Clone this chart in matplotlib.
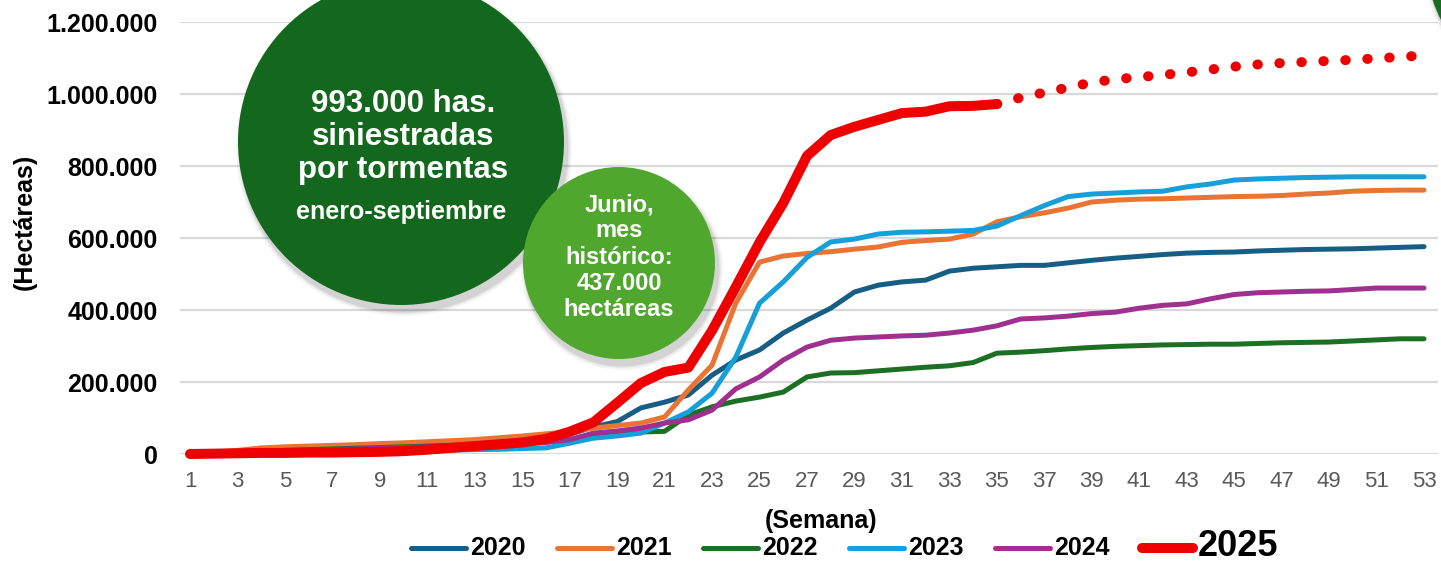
import matplotlib.pyplot as plt
from matplotlib.patches import Ellipse
from matplotlib.lines import Line2D
from matplotlib.ticker import FuncFormatter

plt.rcParams['font.family'] = ['Liberation Sans', 'DejaVu Sans']

# Hectareas siniestradas acumuladas por semana (miles de ha)
semanas = list(range(1, 54))
ha_2020 = [0, 3, 6, 9, 12, 14, 16, 18, 20, 23,
           26, 29, 32, 35, 38, 42, 55, 75, 90, 128,
           144, 164, 219, 261, 289, 336, 372, 405, 450, 469,
           478, 483, 508, 516, 520, 524, 524, 531, 538, 544,
           549, 554, 558, 560, 561, 564, 566, 568, 569, 570,
           572, 574, 576]
ha_2021 = [0, 5, 10, 17, 20, 22, 24, 26, 29, 31,
           34, 37, 40, 45, 50, 56, 62, 72, 79, 86,
           103, 178, 247, 419, 533, 550, 557, 562, 569, 575,
           588, 593, 597, 611, 645, 659, 670, 683, 700, 705,
           708, 709, 711, 713, 715, 716, 718, 722, 725, 730,
           732, 733, 733]
ha_2022 = [0, 2, 5, 8, 10, 12, 14, 16, 18, 20,
           22, 24, 26, 28, 30, 34, 40, 48, 55, 61,
           63, 108, 131, 147, 158, 172, 214, 225, 226, 231,
           236, 241, 245, 254, 280, 283, 287, 292, 296, 299,
           301, 303, 304, 305, 305, 307, 309, 310, 311, 314,
           317, 320, 320]
ha_2023 = [0, 1, 2, 3, 4, 5, 6, 7, 8, 9,
           10, 11, 12, 13, 15, 17, 30, 44, 50, 58,
           86, 117, 169, 269, 419, 478, 546, 589, 597, 611,
           616, 617, 619, 621, 633, 662, 690, 715, 722, 725,
           728, 730, 742, 750, 761, 764, 766, 768, 769, 770,
           770, 770, 770]
ha_2024 = [0, 2, 4, 6, 8, 10, 12, 14, 16, 18,
           20, 22, 24, 26, 28, 32, 40, 58, 64, 72,
           86, 95, 122, 181, 214, 261, 297, 316, 322, 325,
           328, 330, 336, 344, 356, 375, 378, 383, 390, 394,
           405, 413, 417, 431, 443, 448, 450, 452, 453, 457,
           461, 461, 461]

semanas_2025 = list(range(1, 36))
ha_2025 = [0, 1, 2, 3, 3, 4, 4, 5, 6, 8,
           12, 17, 22, 27, 32, 42, 62, 88, 142, 197,
           228, 240, 343, 464, 588, 697, 828, 886, 909, 928,
           947, 951, 966, 967, 972]

# proyeccion (linea punteada)
semanas_proy = list(range(35, 54))
ha_2025_proy = [972, 990, 1004, 1018, 1032, 1041, 1047, 1053, 1060, 1068,
                1076, 1082, 1086, 1089, 1092, 1095, 1099, 1103, 1107]

anios = ['2020', '2021', '2022', '2023', '2024']
series = [ha_2020, ha_2021, ha_2022, ha_2023, ha_2024]
colores = ['#175E85', '#EA7434', '#1D6F24', '#169FD8', '#A0308F']
rojo = '#EE0000'

W, H = 1441, 563
fig = plt.figure(figsize=(W / 100, H / 100), dpi=100)
ax = fig.add_axes([180 / W, (H - 454) / H, (1438 - 180) / W, (454 - 22) / H])

for anio, vals, c in zip(anios, series, colores):
    ax.plot(semanas, [v * 1000 for v in vals], color=c, lw=3.6,
            solid_capstyle='round', solid_joinstyle='round', clip_on=False)

ax.plot(semanas_2025, [v * 1000 for v in ha_2025], color=rojo, lw=7.2,
        solid_capstyle='round', solid_joinstyle='round', clip_on=False, zorder=5)
ax.plot(semanas_proy, [v * 1000 for v in ha_2025_proy], color=rojo, lw=7.2,
        linestyle=(0, (0.05, 2.15)), dash_capstyle='round', clip_on=False, zorder=5)

ax.set_xlim(1 - 10 / 23.73, 53 + 14 / 23.73)
ax.set_ylim(0, 1200000)
ax.set_xticks(list(range(1, 54, 2)))
ax.set_yticks(list(range(0, 1200001, 200000)))
ax.yaxis.set_major_formatter(FuncFormatter(lambda v, p: f'{v:,.0f}'.replace(',', '.')))
ax.tick_params(axis='y', length=0, pad=16, labelsize=18, labelcolor='black')
ax.tick_params(axis='x', length=0, pad=12, labelsize=16, labelcolor='#595959')
for lab in ax.get_yticklabels():
    lab.set_fontweight('bold')
for s in ax.spines.values():
    s.set_visible(False)
ax.yaxis.grid(True, color='#D9D9D9', lw=1.6)
ax.set_axisbelow(True)

fig.text(25 / W, 1 - 222 / H, '(Hectáreas)', rotation=90, ha='center', va='center',
         fontsize=18, fontweight='bold')
fig.text(821 / W, 1 - 521 / H, '(Semana)', ha='center', va='center',
         fontsize=18, fontweight='bold')

# leyenda
leg_y = 1 - 548 / H
leg_x = [411, 557, 703, 849, 995]
for x0, anio, c in zip(leg_x, anios, colores):
    fig.add_artist(Line2D([x0 / W, (x0 + 55) / W], [leg_y, leg_y], color=c, lw=3.6,
                          solid_capstyle='round', transform=fig.transFigure))
    fig.text((x0 + 59) / W, leg_y, anio, ha='left', va='center', fontsize=18,
             fontweight='bold')
fig.add_artist(Line2D([1142 / W, 1193 / W], [leg_y, leg_y], color=rojo, lw=7.2,
                      solid_capstyle='round', transform=fig.transFigure))
fig.text(1198 / W, 1 - 547 / H, '2025', ha='left', va='center', fontsize=26,
         fontweight='bold')


def burbuja(cx, cy, r, color):
    for extra, a in [(10, 0.04), (6, 0.06), (3, 0.08)]:
        fig.add_artist(Ellipse(((cx + 3) / W, 1 - (cy + 6) / H), (2 * r + extra) / W,
                               (2 * r + extra) / H, transform=fig.transFigure,
                               color='black', alpha=a, lw=0))
    fig.add_artist(Ellipse((cx / W, 1 - cy / H), 2 * r / W, 2 * r / H,
                           transform=fig.transFigure, color=color, lw=0))


burbuja(401, 142, 163, '#13681E')
burbuja(619, 263, 96, '#50A72E')
burbuja(1562, -42, 136, '#1A6B24')

fig.text(403 / W, 1 - 137 / H, '993.000 has.\nsiniestradas\npor tormentas',
         ha='center', va='center', color='white', fontsize=22.5, fontweight='bold',
         linespacing=1.12, zorder=10)
fig.text(401 / W, 1 - 212 / H, 'enero-septiembre', ha='center', va='center',
         color='white', fontsize=18, fontweight='bold', zorder=10)
fig.text(619 / W, 1 - 257 / H, 'Junio,\nmes\nhistórico:\n437.000\nhectáreas',
         ha='center', va='center', color='white', fontsize=17, fontweight='bold',
         linespacing=1.18, zorder=10)

fig.savefig('out.png', dpi=100)
